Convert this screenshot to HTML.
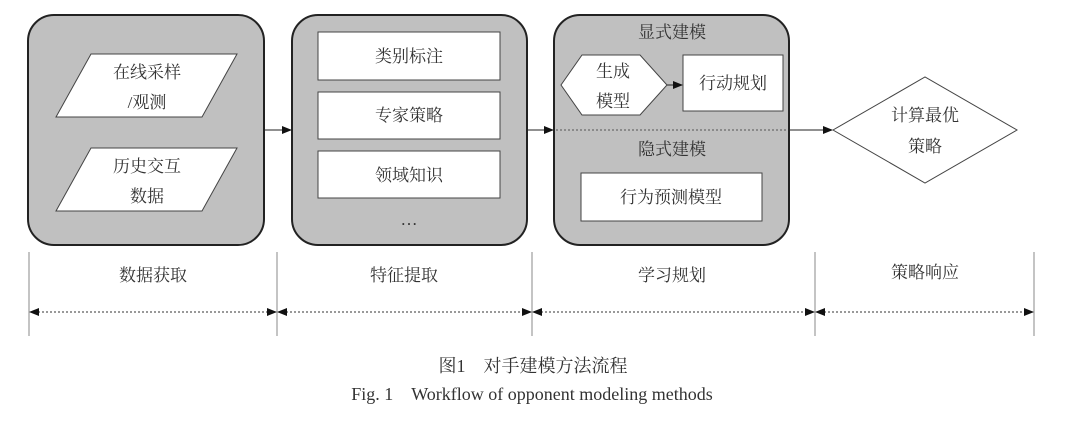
<!DOCTYPE html>
<html><head><meta charset="utf-8"><style>
body{margin:0;background:#fff;}
svg text{font-family:"Liberation Serif","Noto Serif CJK SC",serif;fill:#333;}
</style></head><body>
<svg width="1080" height="421" viewBox="0 0 1080 421" xmlns="http://www.w3.org/2000/svg">
<defs>
<marker id="a" markerWidth="10" markerHeight="8" refX="9" refY="4" orient="auto" markerUnits="userSpaceOnUse"><path d="M0,0 L10,4 L0,8 Z" fill="#111"/></marker>
<marker id="b" markerWidth="10" markerHeight="8" refX="1" refY="4" orient="auto" markerUnits="userSpaceOnUse"><path d="M10,0 L0,4 L10,8 Z" fill="#111"/></marker>
</defs>
<g stroke="#222" stroke-width="2" fill="#c0c0c0">
<rect x="28" y="15" width="236" height="230" rx="26"/>
<rect x="292" y="15" width="235" height="230" rx="26"/>
<rect x="554" y="15" width="235" height="230" rx="26"/>
</g>
<g stroke="#444" stroke-width="1" fill="#fff">
<polygon points="91,54 237,54 202,117 56,117"/>
<polygon points="91,148 237,148 202,211 56,211"/>
<rect x="318" y="32" width="182" height="48"/>
<rect x="318" y="92" width="182" height="47"/>
<rect x="318" y="151" width="182" height="47"/>
<polygon points="582,55 640,55 667,85 640,115 582,115 561,85"/>
<rect x="683" y="55" width="100" height="56"/>
<rect x="581" y="173" width="181" height="48"/>
<polygon points="833,130 925,77 1017,130 925,183"/>
</g>
<g stroke="#222" stroke-width="1" fill="none">
<line x1="264" y1="130" x2="291" y2="130" marker-end="url(#a)"/>
<line x1="527" y1="130" x2="553" y2="130" marker-end="url(#a)"/>
<line x1="789" y1="130" x2="832" y2="130" marker-end="url(#a)"/>
<line x1="667" y1="85" x2="682" y2="85" marker-end="url(#a)"/>
<line x1="556" y1="130" x2="787" y2="130" stroke-dasharray="2,2" stroke="#555"/>
</g>
<g stroke="#888" stroke-width="1">
<line x1="29" y1="252" x2="29" y2="336"/><line x1="277" y1="252" x2="277" y2="336"/>
<line x1="532" y1="252" x2="532" y2="336"/><line x1="815" y1="252" x2="815" y2="336"/>
<line x1="1034" y1="252" x2="1034" y2="336"/>
</g>
<g stroke="#333" stroke-width="1" stroke-dasharray="2,2" fill="none">
<line x1="30" y1="312" x2="276" y2="312" marker-start="url(#b)" marker-end="url(#a)"/>
<line x1="278" y1="312" x2="531" y2="312" marker-start="url(#b)" marker-end="url(#a)"/>
<line x1="533" y1="312" x2="814" y2="312" marker-start="url(#b)" marker-end="url(#a)"/>
<line x1="816" y1="312" x2="1033" y2="312" marker-start="url(#b)" marker-end="url(#a)"/>
</g>
<g font-size="17" text-anchor="middle">
<text x="147" y="78">在线采样</text><text x="147" y="108">/观测</text>
<text x="147" y="172">历史交互</text><text x="147" y="202">数据</text>
<text x="409" y="62">类别标注</text><text x="409" y="121">专家策略</text><text x="409" y="181">领域知识</text>
<text x="409" y="225">…</text>
<text x="672" y="38">显式建模</text>
<text x="613" y="77">生成</text><text x="613" y="107">模型</text>
<text x="733" y="89">行动规划</text>
<text x="672" y="155">隐式建模</text>
<text x="671" y="203">行为预测模型</text>
<text x="925" y="121">计算最优</text><text x="925" y="152">策略</text>
<text x="153" y="281">数据获取</text><text x="404" y="281">特征提取</text>
<text x="672" y="281">学习规划</text><text x="925" y="278">策略响应</text>
</g>
<g font-size="18" text-anchor="middle">
<text x="533" y="372">图1　对手建模方法流程</text>
<text x="532" y="400">Fig. 1　Workflow of opponent modeling methods</text>
</g>
</svg>
</body></html>
